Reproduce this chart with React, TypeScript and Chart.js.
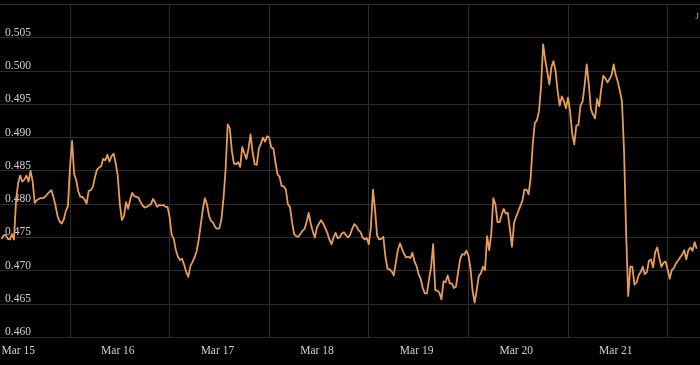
import React, { useEffect, useRef } from 'react';
import { Chart, registerables } from 'chart.js';

Chart.register(...registerables);

// Day labels, placed at noon of each day (hours after Mar 15 00:00)
const DAY_LABELS = ['Mar 15', 'Mar 16', 'Mar 17', 'Mar 18', 'Mar 19', 'Mar 20', 'Mar 21'];
const DAY_TICK_HOURS = [12, 36, 60, 84, 108, 132, 156];

// Y axis tick values
const Y_TICKS = [0.46, 0.465, 0.47, 0.475, 0.48, 0.485, 0.49, 0.495, 0.5, 0.505, 0.51];

// Half-hourly samples, first one at 07:30 on Mar 15
const FIRST_HOUR = 7.5;
const STEP_HOURS = 0.5;
const PRICES = [
  0.4748, 0.4753, 0.4754, 0.4748, 0.4747, 0.4755, 0.4747, 0.4805, 0.4832, 0.4843, 0.4834, 0.4837,
  0.4843, 0.4834, 0.4850, 0.4834, 0.4802, 0.4806, 0.4808, 0.4809, 0.4809, 0.4811, 0.4815, 0.4818,
  0.4821, 0.4811, 0.4798, 0.4782, 0.4774, 0.4771, 0.4777, 0.4790, 0.4797, 0.4856, 0.4895, 0.4845,
  0.4836, 0.4819, 0.4811, 0.4811, 0.4807, 0.4801, 0.4820, 0.4821, 0.4826, 0.4840, 0.4852, 0.4855,
  0.4857, 0.4868, 0.4866, 0.4874, 0.4864, 0.4872, 0.4876, 0.4862, 0.4843, 0.4800, 0.4776, 0.4782,
  0.4803, 0.4793, 0.4807, 0.4817, 0.4812, 0.4811, 0.4810, 0.4803, 0.4798, 0.4795, 0.4796, 0.4798,
  0.4800, 0.4808, 0.4803, 0.4796, 0.4799, 0.4798, 0.4799, 0.4796, 0.4796, 0.4781, 0.4754, 0.4748,
  0.4731, 0.4721, 0.4716, 0.4718, 0.4709, 0.4698, 0.4691, 0.4707, 0.4713, 0.4720, 0.4729, 0.4746,
  0.4769, 0.4792, 0.4809, 0.4800, 0.4782, 0.4775, 0.4772, 0.4765, 0.4763, 0.4764, 0.4778, 0.4810,
  0.4853, 0.4920, 0.4914, 0.4880, 0.4861, 0.4860, 0.4863, 0.4856, 0.4886, 0.4877, 0.4868, 0.4883,
  0.4905, 0.4878, 0.4860, 0.4859, 0.4884, 0.4891, 0.4900, 0.4894, 0.4902, 0.4900, 0.4885, 0.4884,
  0.4863, 0.4845, 0.4841, 0.4827, 0.4827, 0.4822, 0.4800, 0.4796, 0.4773, 0.4755, 0.4752, 0.4751,
  0.4755, 0.4760, 0.4763, 0.4773, 0.4787, 0.4771, 0.4759, 0.4750, 0.4765, 0.4771, 0.4776, 0.4771,
  0.4764, 0.4757, 0.4747, 0.4740, 0.4750, 0.4757, 0.4749, 0.4750, 0.4756, 0.4758, 0.4753, 0.4750,
  0.4754, 0.4763, 0.4770, 0.4767, 0.4761, 0.4758, 0.4750, 0.4747, 0.4749, 0.4740, 0.4765, 0.4822,
  0.4791, 0.4753, 0.4747, 0.4748, 0.4751, 0.4721, 0.4703, 0.4702, 0.4699, 0.4693, 0.4712, 0.4731,
  0.4741, 0.4733, 0.4725, 0.4720, 0.4721, 0.4719, 0.4727, 0.4714, 0.4707, 0.4695, 0.4688, 0.4674,
  0.4666, 0.4666, 0.4687, 0.4705, 0.4740, 0.4671, 0.4670, 0.4667, 0.4657, 0.4684, 0.4683, 0.4693,
  0.4681, 0.4681, 0.4674, 0.4676, 0.4697, 0.4717, 0.4725, 0.4724, 0.4730, 0.4723, 0.4703, 0.4670,
  0.4652, 0.4671, 0.4692, 0.4696, 0.4706, 0.4701, 0.4752, 0.4731, 0.4755, 0.4809, 0.4800, 0.4773,
  0.4773, 0.4784, 0.4793, 0.4786, 0.4787, 0.4762, 0.4736, 0.4772, 0.4781, 0.4789, 0.4797, 0.4805,
  0.4822, 0.4822, 0.4815, 0.4840, 0.4890, 0.4922, 0.4926, 0.4939, 0.4977, 0.5040, 0.5017, 0.4999,
  0.4980, 0.5006, 0.5015, 0.5000, 0.4970, 0.4948, 0.4962, 0.4955, 0.4944, 0.4960, 0.4939, 0.4906,
  0.4890, 0.4918, 0.4919, 0.4948, 0.4954, 0.4979, 0.5010, 0.4981, 0.4943, 0.4935, 0.4929, 0.4958,
  0.4947, 0.4973, 0.4993, 0.4989, 0.4983, 0.4988, 0.4994, 0.5010, 0.4994, 0.4984, 0.4970, 0.4954,
  0.4880, 0.4757, 0.4662, 0.4706, 0.4706, 0.4679, 0.4682, 0.4693, 0.4698, 0.4706, 0.4695, 0.4698,
  0.4715, 0.4717, 0.4705, 0.4728, 0.4735, 0.4719, 0.4706, 0.4712, 0.4714, 0.4702, 0.4688, 0.4701,
  0.4704, 0.4711, 0.4715, 0.4720, 0.4724, 0.4731, 0.4717, 0.4731, 0.4735, 0.4730, 0.4743, 0.4733,
];

const X_MIN = 7.13;
const X_MAX = 175.8;
const Y_MIN = 0.46;
const Y_MAX = 0.51;

const BG = '#000000';
const GRID = '#2c2c2c';
const LINE = '#e89c5a';
const TEXT = '#cfcfcf';
const FONT_FAMILY = "'Liberation Serif', 'Times New Roman', serif";

const bgPlugin = {
  id: 'bg',
  beforeDraw(chart: any) {
    const { ctx, width, height } = chart;
    ctx.save();
    ctx.fillStyle = BG;
    ctx.fillRect(0, 0, width, height);
    ctx.restore();
  },
};

const cornerTextPlugin = {
  id: 'cornerText',
  afterDraw(chart: any) {
    const { ctx } = chart;
    ctx.save();
    ctx.fillStyle = '#b0b0b0';
    ctx.font = `9px ${FONT_FAMILY}`;
    ctx.textAlign = 'left';
    ctx.textBaseline = 'alphabetic';
    ctx.fillText('J', 695.5, 18.5);
    ctx.restore();
  },
};

export default function App() {
  const ref = useRef<HTMLCanvasElement | null>(null);

  useEffect(() => {
    document.body.style.margin = '0';
    const canvas = ref.current;
    if (!canvas) return;
    const points = PRICES.map((p, i) => ({ x: FIRST_HOUR + i * STEP_HOURS, y: p }));
    const chart = new Chart(canvas, {
      type: 'line',
      data: {
        datasets: [
          {
            data: points,
            borderColor: LINE,
            borderWidth: 1.8,
            borderJoinStyle: 'round',
            pointRadius: 0,
            tension: 0,
            fill: false,
          },
        ],
      },
      options: {
        animation: false,
        responsive: false,
        devicePixelRatio: 1,
        layout: { padding: { top: 4.5, left: 0, right: 0, bottom: 0 } },
        plugins: {
          legend: { display: false },
          tooltip: { enabled: false },
        },
        scales: {
          x: {
            type: 'linear',
            min: X_MIN,
            max: X_MAX,
            afterBuildTicks: (s: any) => {
              s.ticks = DAY_TICK_HOURS.map((v) => ({ value: v }));
            },
            afterFit: (s: any) => {
              s.paddingLeft = 0;
              s.paddingRight = 0;
              s.height = 27.7;
            },
            grid: { color: GRID, lineWidth: 1, offset: true, drawTicks: false },
            border: { display: false },
            ticks: {
              color: TEXT,
              font: { family: FONT_FAMILY, size: 11.5 },
              padding: 7,
              labelOffset: -2,
              maxRotation: 0,
              autoSkip: false,
              callback: (_v: any, i: number) => DAY_LABELS[i],
            },
          },
          y: {
            type: 'linear',
            min: Y_MIN,
            max: Y_MAX,
            afterBuildTicks: (s: any) => {
              s.ticks = Y_TICKS.map((v) => ({ value: v }));
            },
            afterFit: (s: any) => {
              s.width = 0;
              s.paddingTop = 0;
              s.paddingBottom = 0;
            },
            grid: { color: GRID, lineWidth: 1, drawTicks: false },
            border: { display: false },
            ticks: {
              mirror: true,
              padding: 5,
              labelOffset: -5,
              color: TEXT,
              font: { family: FONT_FAMILY, size: 11.5 },
              callback: (v: any) => (Math.abs(Number(v) - Y_MAX) < 1e-9 ? '' : Number(v).toFixed(3)),
            },
          },
        },
      },
      plugins: [bgPlugin, cornerTextPlugin],
    } as any);
    return () => chart.destroy();
  }, []);

  return (
    <div style={{ position: 'fixed', left: 0, top: 0, width: 700, height: 365, background: BG }}>
      <canvas ref={ref} width={700} height={365} style={{ display: 'block' }} />
    </div>
  );
}
